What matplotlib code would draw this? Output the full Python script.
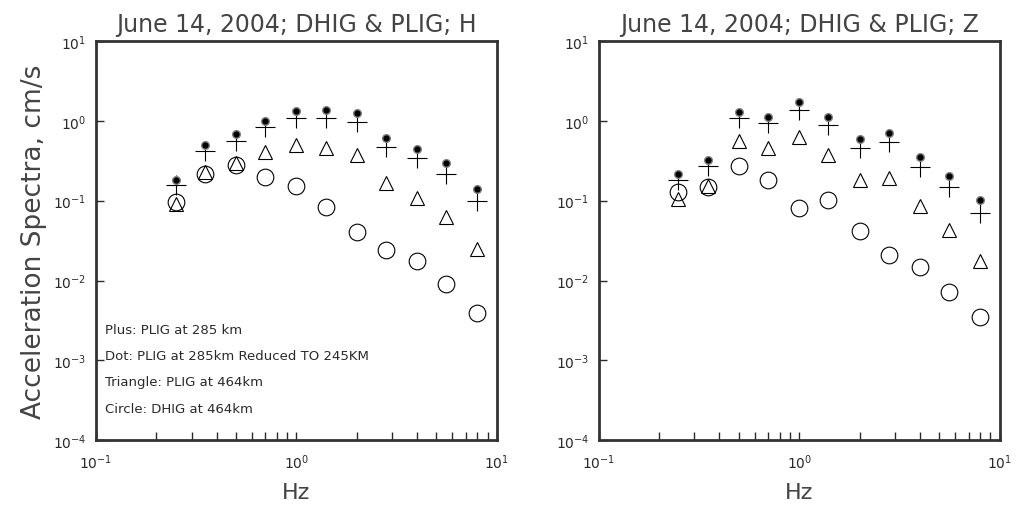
import matplotlib
matplotlib.use("Agg")
import matplotlib.pyplot as plt
from matplotlib.ticker import LogLocator, NullLocator

plt.rcParams['font.family'] = ['DejaVu Sans']

# frequencies, Hz
freq = [0.25, 0.35, 0.5, 0.7, 1.0, 1.4, 2.0, 2.8, 4.0, 5.6, 8.0]

# H component
h_plus = [0.157, 0.422, 0.563, 0.829, 1.08, 1.08, 0.975, 0.47, 0.339, 0.216, 0.099]
h_dot = [0.183, 0.497, 0.684, 1.0, 1.33, 1.35, 1.24, 0.609, 0.447, 0.296, 0.14]
h_tri = [0.0906, 0.226, 0.293, 0.41, 0.493, 0.46, 0.373, 0.166, 0.108, 0.0618, 0.0247]
h_circ = [0.0953, 0.216, 0.282, 0.196, 0.154, 0.0839, 0.0401, 0.0243, 0.0175, 0.00901, 0.00387]

# Z component
z_plus = [0.183, 0.269, 1.08, 0.938, 1.37, 0.894, 0.46, 0.542, 0.264, 0.149, 0.0705]
z_dot = [0.216, 0.323, 1.30, 1.125, 1.71, 1.12, 0.591, 0.703, 0.349, 0.202, 0.101]
z_tri = [0.104, 0.151, 0.563, 0.456, 0.626, 0.376, 0.180, 0.192, 0.0849, 0.0425, 0.0177]
z_circ = [0.129, 0.149, 0.272, 0.181, 0.080, 0.102, 0.0416, 0.0208, 0.0149, 0.0071, 0.0035]

titles = ["June 14, 2004; DHIG & PLIG; H", "June 14, 2004; DHIG & PLIG; Z"]
notes = ["Plus: PLIG at 285 km",
         "Dot: PLIG at 285km Reduced TO 245KM",
         "Triangle: PLIG at 464km",
         "Circle: DHIG at 464km"]

fig = plt.figure(figsize=(10.2, 5.06), dpi=100)
ax1 = fig.add_axes([0.094, 0.128, 0.393, 0.789])
ax2 = fig.add_axes([0.587, 0.128, 0.393, 0.789])

data = [(h_plus, h_dot, h_tri, h_circ), (z_plus, z_dot, z_tri, z_circ)]
ink = '#2a2a2a'
soft = '#444444'

for ax, (pl, dt, tr, ci), title in zip([ax1, ax2], data, titles):
    ax.plot(freq, ci, ls='none', marker='o', ms=12, mfc='none', mec='black', mew=0.8)
    ax.plot(freq, tr, ls='none', marker='^', ms=10.5, mfc='none', mec='black', mew=0.8)
    ax.plot(freq, pl, ls='none', marker='+', ms=14, mec='black', mew=0.8)
    ax.plot(freq, dt, ls='none', marker='o', ms=5.5, mfc='black', mec='#808080', mew=1.0)

    ax.set_xscale('log')
    ax.set_yscale('log')
    ax.set_xlim(0.1, 10)
    ax.set_ylim(1e-4, 10)
    ax.xaxis.set_major_locator(LogLocator(base=10, numticks=5))
    ax.xaxis.set_minor_locator(LogLocator(base=10, subs=range(2, 10), numticks=10))
    ax.yaxis.set_major_locator(LogLocator(base=10, numticks=10))
    ax.yaxis.set_minor_locator(NullLocator())
    ax.tick_params(which='both', direction='in', top=False, right=False,
                   labelsize=10, colors=ink)
    ax.tick_params(axis='x', pad=9)
    ax.tick_params(axis='y', pad=7)
    ax.tick_params(which='major', length=6, width=1)
    ax.tick_params(which='minor', length=6, width=1)
    for s in ax.spines.values():
        s.set_linewidth(2)
        s.set_color('#333333')

    ax.set_title(title, fontsize=17, color=soft, pad=7)
    ax.set_xlabel('Hz', fontsize=16, color=soft, labelpad=8)

ax1.set_ylabel('Acceleration Spectra, cm/s', fontsize=19, color=soft, labelpad=4)

for i, t in enumerate(notes):
    ax1.text(0.022, 0.278 - i * 0.066, t, transform=ax1.transAxes,
             fontsize=9.5, color=ink, va='center', ha='left')

fig.savefig('out.png', dpi=100)
